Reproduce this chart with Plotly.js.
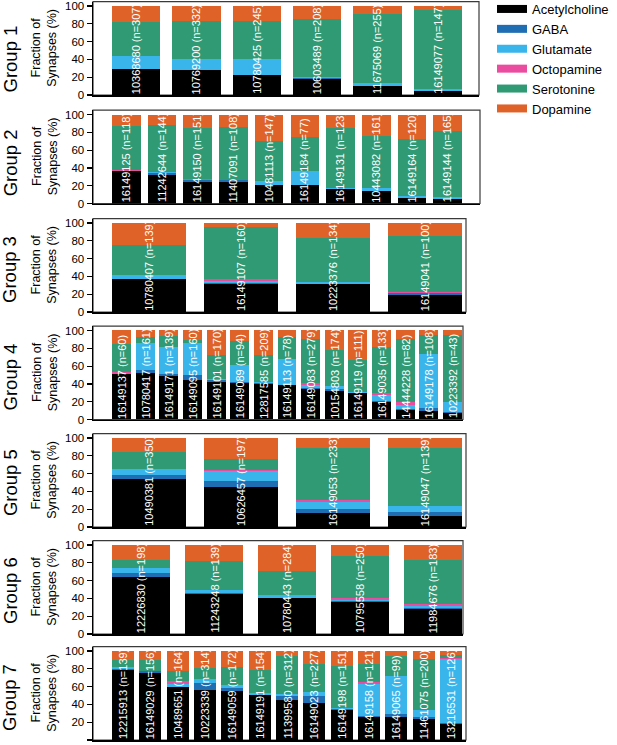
<!DOCTYPE html>
<html>
<head>
<meta charset="utf-8">
<script src="https://cdn.plot.ly/plotly-3.0.1.min.js"></script>
<style>
  html, body { margin: 0; padding: 0; background: #ffffff; }
  #chart { width: 617px; height: 745px; }
</style>
</head>
<body>
<div id="chart"></div>
<script>
// ---------------- DATA ----------------
const groupNames = ['Group 1', 'Group 2', 'Group 3', 'Group 4', 'Group 5', 'Group 6', 'Group 7'];
const transmitters = ['Acetylcholine', 'GABA', 'Glutamate', 'Octopamine', 'Serotonine', 'Dopamine'];
const transmitterColors = ['#000000', '#1f6db2', '#3ab5ec', '#ea4ca0', '#2f9a74', '#df6228'];

const neuronIds = [
  ['10368680', '10769200', '10780425', '10603489', '11675069', '16149077'],
  ['16149125', '11242644', '16149150', '11407091', '10481113', '16149184', '16149131', '10443082', '16149164', '16149144'],
  ['10780407', '16149107', '10223376', '16149041'],
  ['16149137', '10780417', '16149171', '16149095', '16149101', '16149089', '12817585', '16149113', '16149083', '10154803', '16149119', '16149035', '14444228', '16149178', '10223392'],
  ['10490381', '10626457', '16149053', '16149047'],
  ['12226830', '11243248', '10780443', '10795558', '11984676'],
  ['12215913', '16149029', '10489651', '10223339', '16149059', '16149191', '11399580', '16149023', '16149198', '16149158', '16149065', '11461075', '13216531']
];
const synapseCounts = [
  [307, 332, 245, 208, 255, 147],
  [118, 144, 151, 108, 147, 77, 123, 161, 120, 165],
  [139, 160, 134, 100],
  [60, 161, 139, 160, 170, 94, 209, 78, 279, 174, 111, 133, 82, 108, 43],
  [350, 197, 233, 139],
  [198, 139, 284, 250, 183],
  [139, 156, 164, 314, 172, 154, 312, 227, 151, 121, 99, 200, 126]
];

const acetylcholine = [
  [29, 28, 23, 18, 10, 5],
  [36.5, 31.5, 24.5, 24, 20.5, 20.5, 16, 14, 6.5, 5.5],
  [37, 32, 31, 19.5],
  [51.5, 52, 48.5, 44, 42.5, 41, 39.5, 39, 34.5, 32.5, 29.5, 19.5, 11, 10, 7],
  [53.5, 45, 15.5, 12],
  [63.5, 45, 40, 36, 28.5],
  [79, 75, 59, 56, 55, 50, 44.5, 42, 33.5, 26, 26, 24, 18]
];
const gaba = [
  [0, 0, 0, 1, 0.5, 0],
  [0, 2.5, 2, 2, 0.5, 0, 0, 0, 0, 0],
  [0, 0.5, 1, 1.5],
  [0, 4, 2.5, 6, 1.5, 1, 1, 0, 1, 1.5, 0.5, 1, 0.5, 3, 1],
  [4.5, 6.5, 5, 5],
  [5.5, 1, 1, 1, 1],
  [0.5, 2, 1, 7.5, 3.5, 1, 5, 7.5, 1, 1.5, 3.5, 1.5, 1]
];
const glutamate = [
  [15, 12.5, 17, 1.5, 2.5, 1.5],
  [0, 1.5, 0, 0, 4.5, 15.5, 1.5, 3.5, 2, 2],
  [4.5, 2, 2, 0],
  [0, 30, 31, 36, 1.5, 19.5, 1.5, 29, 3.5, 4, 1, 7.5, 4.5, 61, 12],
  [7, 11.5, 7.5, 7],
  [5.5, 3.5, 2.5, 1.5, 2],
  [2, 0.5, 2.5, 5, 3, 2, 2.5, 4.5, 1.5, 35, 42.5, 8, 72.5]
];
const octopamine = [
  [0, 0, 0, 0, 0, 0],
  [1, 0, 0.5, 0.5, 0, 0, 0, 0, 0, 0],
  [0, 2.5, 0, 1],
  [1.5, 0, 0, 0, 0, 0, 0, 0, 2, 0, 0, 2, 3.5, 0, 0],
  [0, 1.5, 2, 0],
  [0, 0, 0, 1.5, 2.5],
  [0, 0, 4, 0, 0, 0, 0, 0, 0, 2.5, 0, 0, 1]
];
const serotonine = [
  [37.5, 43, 43.5, 64.5, 78, 89],
  [50, 52.5, 58, 59.5, 45, 38.5, 67.5, 58, 64, 73.5],
  [34, 59, 49, 63.5],
  [32, 7, 11.5, 3.5, 27.5, 26.5, 30, 25, 49.5, 40.5, 36, 51.5, 71, 20.5, 74.5],
  [19.5, 11.5, 59, 65],
  [8.5, 32.5, 27.5, 47.5, 49],
  [8, 12, 11.5, 12, 20, 26, 42, 31.5, 47.5, 20, 22.5, 57, 3.5]
];
const dopamine = [
  [18.5, 16.5, 16.5, 15, 9, 4.5],
  [12.5, 12, 15, 14, 29.5, 25.5, 15, 24.5, 27.5, 19],
  [24.5, 4, 17, 14.5],
  [15, 7, 6.5, 10.5, 27, 12, 28, 7, 9.5, 21.5, 33, 18.5, 9.5, 5.5, 5.5],
  [15.5, 24, 11, 11],
  [17, 18, 29, 12.5, 17],
  [10.5, 10.5, 22, 19.5, 18.5, 21, 6, 14.5, 16.5, 15, 5.5, 9.5, 4]
];
const yTickValues = [0, 20, 40, 60, 80, 100];

// ---------------- LAYOUT GEOMETRY (pixels) ----------------
const W = 617, H = 745;
const FONT = 'Liberation Sans, Arial, Helvetica, sans-serif';
const zeroPx = [95, 203.5, 312, 419.5, 527, 634, 740];   // y pixel of the 0 line
const rightPx = [479, 480, 466, 463, 466, 463, 466];     // right frame edge
const groupLabelPos = [0.38, 0.43, 0.45, 0.45, 0.47, 0.46, 0.45];
const axisLeftPx = 93;
const barStartPx = 112, barEndPx = 462;
const pxPer100 = 89;
const yMax = 105;
const plotHpx = pxPer100 * yMax / 100;
const bargap = 0.2;

const series = [acetylcholine, gaba, glutamate, octopamine, serotonine, dopamine];

const traces = [];
const layout = {
  width: W, height: H,
  margin: {l: 0, r: 0, t: 0, b: 0, pad: 0, autoexpand: false},
  paper_bgcolor: '#ffffff', plot_bgcolor: '#ffffff',
  barmode: 'stack', bargap: bargap,
  showlegend: true,
  legend: {
    x: 492 / W, y: 1 + 6 / H, xanchor: 'left', yanchor: 'top',
    font: {family: FONT, size: 13, color: '#000000'},
    bgcolor: 'rgba(0,0,0,0)', borderwidth: 0,
    itemwidth: 30, tracegroupgap: 0, traceorder: 'normal'
  },
  font: {family: FONT, color: '#000000'},
  annotations: [], shapes: []
};

groupNames.forEach((gname, g) => {
  const sfx = g === 0 ? '' : String(g + 1);
  const xa = 'x' + sfx, ya = 'y' + sfx;
  const ids = neuronIds[g];
  const n = ids.length;

  series.forEach((vals, t) => {
    traces.push({
      type: 'bar', name: transmitters[t],
      x: ids, y: vals[g],
      xaxis: xa, yaxis: ya,
      marker: {color: transmitterColors[t], line: {width: 0}},
      showlegend: false, hoverinfo: 'skip'
    });
  });

  const bottom = (H - zeroPx[g]) / H;
  const top = (H - zeroPx[g] + plotHpx) / H;
  const u = (barEndPx - barStartPx) / (n - bargap);
  const half = (1 - bargap) / 2;
  const r0 = -half - (barStartPx - axisLeftPx) / u;
  const r1 = (n - 1) + half + (rightPx[g] - barEndPx) / u;

  layout['xaxis' + sfx] = {
    domain: [axisLeftPx / W, rightPx[g] / W],
    anchor: ya, type: 'category', range: [r0, r1],
    showline: true, linecolor: '#000000', linewidth: 1.5,
    ticks: '', showticklabels: false, showgrid: false, zeroline: false,
    fixedrange: true
  };
  layout['yaxis' + sfx] = {
    domain: [bottom, top], anchor: xa, range: [0, yMax],
    tickmode: 'array', tickvals: yTickValues,
    ticks: 'outside', ticklen: 5, tickwidth: 1.2, tickcolor: '#000000',
    showline: true, linecolor: '#000000', linewidth: 1.5,
    showgrid: false, zeroline: false,
    tickfont: {family: FONT, size: 11.5, color: '#000000'},
    fixedrange: true
  };

  // frame (top / right edges)
  layout.shapes.push({
    type: 'rect', xref: xa + ' domain', yref: ya + ' domain',
    x0: 0, x1: 1, y0: 0, y1: 1, layer: 'below',
    line: {color: '#3a3a3a', width: 1.2}, fillcolor: 'rgba(0,0,0,0)'
  });

  // group label
  layout.annotations.push({
    text: gname, xref: 'paper', yref: ya + ' domain',
    x: 10 / W, y: groupLabelPos[g], xanchor: 'center', yanchor: 'middle',
    textangle: -90, showarrow: false,
    font: {family: FONT, size: 18.5, color: '#000000'}
  });
  // y axis title
  layout.annotations.push({
    text: 'Fraction of<br>Synapses (%)', xref: 'paper', yref: ya + ' domain',
    x: 44.5 / W, y: 0.5, xanchor: 'center', yanchor: 'middle',
    textangle: -90, showarrow: false,
    font: {family: FONT, size: 12.5, color: '#000000'}
  });
  // bar labels (category index positions)
  ids.forEach((id, i) => {
    layout.annotations.push({
      text: id + ' (n=' + synapseCounts[g][i] + ')',
      xref: xa, yref: ya, x: i, y: 0,
      xanchor: 'center', yanchor: 'bottom', yshift: -1,
      textangle: -90, showarrow: false,
      font: {family: FONT, size: 11, color: '#ffffff'}
    });
  });
});

// legend entries
transmitters.forEach((name, t) => {
  traces.push({
    type: 'scatter', mode: 'lines', name: name,
    x: [null], y: [null], xaxis: 'x', yaxis: 'y',
    line: {color: transmitterColors[t], width: 8},
    showlegend: true, hoverinfo: 'skip'
  });
});

Plotly.newPlot('chart', traces, layout, {staticPlot: true, displayModeBar: false});
</script>
</body>
</html>
